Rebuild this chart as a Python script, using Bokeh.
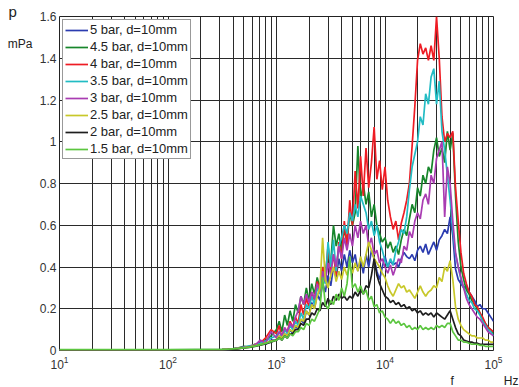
from bokeh.plotting import figure
from bokeh.models import (Range1d, FixedTicker, PrintfTickFormatter, Title, LinearAxis,
                          CustomJSTickFormatter)
from bokeh.embed import file_html
from bokeh.resources import INLINE

freq_hz = [10, 100, 316, 355, 398, 447, 501, 562, 631, 708, 794, 891,
    1000, 1059, 1122, 1189, 1259, 1334, 1413, 1496, 1585, 1679,
    1778, 1884, 1995, 2113, 2239, 2371, 2512, 2661, 2818, 2985,
    3162, 3350, 3548, 3758, 3981, 4217, 4467, 4732, 5012, 5309,
    5623, 5957, 6310, 6683, 7079, 7499, 7943, 8414, 8913, 9441,
    10000, 10593, 11220, 11885, 12589, 13335, 14125, 14962, 15849, 16788,
    17783, 18836, 19953, 21135, 22387, 23714, 25119, 26607, 28184, 29854,
    31623, 33497, 35481, 37584, 39811, 42170, 44668, 47315, 50119, 53088,
    56234, 59566, 63096, 66834, 70795, 74989, 79433, 84140, 89125, 94406,
    100000]

p_5bar = [0.003, 0.003, 0.004, 0.005, 0.007, 0.010, 0.014, 0.018, 0.024, 0.040, 0.030, 0.050,
    0.05, 0.07, 0.05, 0.08, 0.07, 0.10, 0.08, 0.12, 0.10, 0.15,
    0.13, 0.19, 0.17, 0.23, 0.20, 0.27, 0.24, 0.32, 0.28, 0.36,
    0.31, 0.40, 0.35, 0.44, 0.38, 0.46, 0.40, 0.48, 0.42, 0.46,
    0.38, 0.44, 0.37, 0.46, 0.40, 0.48, 0.44, 0.38, 0.34, 0.40,
    0.45, 0.40, 0.43, 0.41, 0.42, 0.40, 0.44, 0.47, 0.45, 0.44,
    0.46, 0.43, 0.48, 0.50, 0.47, 0.51, 0.46, 0.49, 0.52, 0.48,
    0.53, 0.55, 0.58, 0.56, 0.64, 0.55, 0.39, 0.34, 0.32, 0.30,
    0.31, 0.28, 0.26, 0.24, 0.21, 0.22, 0.20, 0.20, 0.18, 0.16,
    0.14]

p_4_5bar = [0.003, 0.003, 0.005, 0.006, 0.009, 0.013, 0.020, 0.016, 0.030, 0.025, 0.050, 0.070,
    0.10, 0.14, 0.09, 0.17, 0.12, 0.19, 0.14, 0.22, 0.18, 0.26,
    0.22, 0.30, 0.24, 0.32, 0.27, 0.35, 0.30, 0.40, 0.36, 0.46,
    0.42, 0.60, 0.50, 0.56, 0.48, 0.58, 0.52, 0.66, 0.60, 0.66,
    0.98, 0.72, 0.80, 0.70, 0.76, 0.64, 0.70, 0.60, 0.56, 0.52,
    0.54, 0.49, 0.52, 0.47, 0.50, 0.46, 0.53, 0.58, 0.55, 0.63,
    0.70, 0.66, 0.78, 0.74, 0.84, 0.80, 0.88, 0.85, 0.96, 1.02,
    0.93, 0.97, 0.90, 1.05, 0.96, 1.04, 0.74, 0.52, 0.40, 0.34,
    0.29, 0.27, 0.24, 0.22, 0.20, 0.18, 0.15, 0.13, 0.11, 0.10,
    0.08]

p_4bar = [0.003, 0.003, 0.004, 0.006, 0.008, 0.011, 0.015, 0.020, 0.028, 0.035, 0.060, 0.100,
    0.08, 0.12, 0.06, 0.10, 0.09, 0.14, 0.11, 0.16, 0.13, 0.22,
    0.17, 0.25, 0.21, 0.28, 0.24, 0.33, 0.29, 0.40, 0.35, 0.50,
    0.38, 0.46, 0.36, 0.52, 0.44, 0.62, 0.50, 0.72, 0.60, 0.86,
    0.68, 0.93, 0.74, 0.97, 0.78, 0.90, 1.07, 0.82, 0.91, 0.77,
    0.88, 0.72, 0.64, 0.58, 0.62, 0.53, 0.61, 0.66, 0.72, 0.80,
    0.98, 1.17, 1.39, 1.47, 1.42, 1.45, 1.39, 1.46, 1.39, 1.60,
    1.40, 1.12, 1.00, 1.04, 1.02, 1.05, 0.78, 0.62, 0.47, 0.37,
    0.32, 0.28, 0.26, 0.22, 0.21, 0.18, 0.16, 0.13, 0.11, 0.10,
    0.09]

p_3_5bar = [0.003, 0.003, 0.004, 0.005, 0.008, 0.012, 0.016, 0.022, 0.026, 0.034, 0.045, 0.060,
    0.07, 0.09, 0.06, 0.10, 0.08, 0.12, 0.10, 0.14, 0.12, 0.18,
    0.15, 0.22, 0.20, 0.26, 0.22, 0.30, 0.27, 0.36, 0.32, 0.52,
    0.40, 0.53, 0.38, 0.50, 0.54, 0.60, 0.56, 0.66, 0.62, 0.70,
    0.64, 0.74, 0.70, 0.66, 0.58, 0.62, 0.55, 0.60, 0.52, 0.48,
    0.43, 0.40, 0.44, 0.41, 0.48, 0.52, 0.58, 0.56, 0.64, 0.77,
    0.88, 0.94, 1.00, 1.12, 1.08, 1.23, 1.18, 1.31, 1.35, 1.18,
    1.29, 1.05, 0.96, 0.84, 0.72, 0.58, 0.46, 0.40, 0.34, 0.30,
    0.27, 0.24, 0.23, 0.20, 0.19, 0.17, 0.14, 0.12, 0.10, 0.09,
    0.07]

p_3bar = [0.003, 0.003, 0.004, 0.005, 0.007, 0.011, 0.015, 0.019, 0.025, 0.050, 0.035, 0.090,
    0.06, 0.09, 0.07, 0.11, 0.09, 0.13, 0.11, 0.16, 0.19, 0.26,
    0.22, 0.27, 0.23, 0.28, 0.25, 0.32, 0.28, 0.38, 0.33, 0.42,
    0.36, 0.46, 0.40, 0.50, 0.44, 0.54, 0.48, 0.56, 0.50, 0.60,
    0.54, 0.62, 0.56, 0.60, 0.50, 0.54, 0.46, 0.48, 0.42, 0.44,
    0.40, 0.37, 0.41, 0.36, 0.40, 0.44, 0.42, 0.50, 0.48, 0.57,
    0.54, 0.62, 0.66, 0.63, 0.72, 0.75, 0.70, 0.84, 0.80, 0.92,
    0.96, 1.00, 0.64, 0.88, 0.80, 0.62, 0.47, 0.40, 0.35, 0.30,
    0.25, 0.22, 0.20, 0.18, 0.16, 0.15, 0.13, 0.11, 0.09, 0.08,
    0.07]

p_2_5bar = [0.003, 0.003, 0.004, 0.005, 0.007, 0.010, 0.013, 0.017, 0.022, 0.028, 0.036, 0.045,
    0.05, 0.07, 0.06, 0.08, 0.07, 0.10, 0.09, 0.12, 0.11, 0.15,
    0.14, 0.19, 0.17, 0.22, 0.20, 0.26, 0.30, 0.54, 0.34, 0.30,
    0.36, 0.40, 0.33, 0.38, 0.34, 0.40, 0.36, 0.41, 0.37, 0.42,
    0.38, 0.45, 0.40, 0.46, 0.52, 0.48, 0.44, 0.42, 0.40, 0.37,
    0.35, 0.31, 0.28, 0.26, 0.29, 0.32, 0.30, 0.31, 0.28, 0.29,
    0.27, 0.25, 0.28, 0.31, 0.28, 0.26, 0.28, 0.29, 0.31, 0.30,
    0.35, 0.33, 0.40, 0.38, 0.43, 0.34, 0.21, 0.15, 0.12, 0.10,
    0.09, 0.08, 0.07, 0.07, 0.06, 0.06, 0.06, 0.05, 0.05, 0.04,
    0.04]

p_2bar = [0.003, 0.003, 0.003, 0.004, 0.006, 0.009, 0.012, 0.015, 0.020, 0.026, 0.032, 0.040,
    0.05, 0.06, 0.05, 0.07, 0.06, 0.08, 0.08, 0.10, 0.10, 0.13,
    0.12, 0.15, 0.15, 0.18, 0.17, 0.20, 0.19, 0.23, 0.21, 0.25,
    0.22, 0.26, 0.24, 0.27, 0.25, 0.26, 0.24, 0.26, 0.25, 0.28,
    0.26, 0.29, 0.27, 0.31, 0.30, 0.36, 0.44, 0.36, 0.32, 0.29,
    0.26, 0.25, 0.23, 0.24, 0.22, 0.23, 0.21, 0.22, 0.20, 0.21,
    0.19, 0.20, 0.18, 0.19, 0.17, 0.18, 0.17, 0.18, 0.16, 0.18,
    0.17, 0.16, 0.15, 0.17, 0.19, 0.15, 0.11, 0.08, 0.07, 0.05,
    0.045, 0.04, 0.04, 0.035, 0.035, 0.03, 0.03, 0.03, 0.03, 0.03,
    0.03]

p_1_5bar = [0.004, 0.004, 0.005, 0.006, 0.008, 0.010, 0.013, 0.016, 0.021, 0.027, 0.034, 0.042,
    0.05, 0.06, 0.05, 0.07, 0.06, 0.08, 0.07, 0.09, 0.09, 0.11,
    0.10, 0.13, 0.12, 0.15, 0.14, 0.17, 0.20, 0.35, 0.22, 0.20,
    0.24, 0.22, 0.27, 0.24, 0.30, 0.26, 0.32, 0.45, 0.30, 0.32,
    0.28, 0.31, 0.27, 0.29, 0.24, 0.26, 0.21, 0.22, 0.18, 0.19,
    0.16, 0.15, 0.13, 0.15, 0.13, 0.14, 0.12, 0.13, 0.11, 0.12,
    0.10, 0.11, 0.10, 0.12, 0.10, 0.11, 0.10, 0.11, 0.10, 0.12,
    0.11, 0.12, 0.11, 0.13, 0.13, 0.09, 0.07, 0.05, 0.05, 0.04,
    0.04, 0.035, 0.03, 0.03, 0.03, 0.025, 0.025, 0.02, 0.02, 0.02,
    0.02]

series_names = ["5 bar, d=10mm", "4.5 bar, d=10mm", "4 bar, d=10mm", "3.5 bar, d=10mm",
                "3 bar, d=10mm", "2.5 bar, d=10mm", "2 bar, d=10mm", "1.5 bar, d=10mm"]
series_values = [p_5bar, p_4_5bar, p_4bar, p_3_5bar, p_3bar, p_2_5bar, p_2bar, p_1_5bar]
series_colors = ["#2b3cb0", "#17862b", "#ee1c24", "#22bcc4", "#a93cb2", "#c8c82a", "#1e1e1e", "#5cc640"]

x_major = [10, 100, 1000, 10000, 100000]
x_minor = [20, 30, 40, 50, 60, 70, 80, 90,
           200, 300, 400, 500, 600, 700, 800, 900,
           2000, 3000, 4000, 5000, 6000, 7000, 8000, 9000,
           20000, 30000, 40000, 50000, 60000, 70000, 80000, 90000]
y_ticks = [0, 0.2, 0.4, 0.6, 0.8, 1.0, 1.2, 1.4, 1.6]
y_unit_tick = [1.466]   # where the "mPa" unit caption sits on the p axis
y_caption = "p"
y_unit = "mPa"
x_caption = "f"
x_unit = "Hz"

for s in series_values:
    assert len(s) == len(freq_hz)

FONT = "Liberation Sans"
GRID = "#2a2a2a"
TXT = "#222222"

p = figure(width=519, height=387, x_axis_type="log", output_backend="svg",
           toolbar_location=None, x_range=Range1d(10, 100000), y_range=Range1d(0, 1.6),
           min_border_left=59, min_border_right=26, min_border_top=16, min_border_bottom=36,
           title=y_caption)
p.background_fill_color = "white"
p.border_fill_color = "white"
p.outline_line_color = "#222222"
p.outline_line_width = 1

# "p" caption at the top-left, via the figure title
p.title.align = "left"
p.title.offset = -51
p.title.standoff = -6
p.title.text_font = FONT
p.title.text_font_size = "15px"
p.title.text_font_style = "normal"
p.title.text_color = TXT

p.xaxis.ticker = FixedTicker(ticks=x_major, minor_ticks=x_minor)
p.yaxis.ticker = FixedTicker(ticks=y_ticks)
p.yaxis.formatter = PrintfTickFormatter(format="%g")

# unit axis carrying only the "mPa" caption, left of the tick labels
unit_axis = LinearAxis(ticker=FixedTicker(ticks=y_unit_tick),
                       formatter=CustomJSTickFormatter(code="return '%s'" % y_unit))
p.add_layout(unit_axis, "left")

for ax in (p.xaxis[0], p.yaxis[0], unit_axis):
    ax.axis_line_color = None
    ax.major_tick_line_color = None
    ax.minor_tick_line_color = None
    ax.major_tick_in = 0
    ax.major_tick_out = 0
    ax.minor_tick_in = 0
    ax.minor_tick_out = 0
    ax.major_label_text_font = FONT
    ax.major_label_text_font_size = "12px"
    ax.major_label_text_color = "#333333"
p.yaxis[0].major_label_standoff = 3
p.xaxis[0].major_label_standoff = 5
unit_axis.major_label_standoff = 4
unit_axis.major_label_text_font_size = "12px"
unit_axis.major_label_text_color = TXT

# "f ... Hz" caption below the x tick labels
p.add_layout(Title(text=x_caption + "\u00a0" * 15 + x_unit, align="right", offset=-25, standoff=0,
                   text_font=FONT, text_font_size="12px", text_font_style="normal",
                   text_color=TXT), "below")

p.xgrid.grid_line_color = GRID
p.xgrid.grid_line_width = 1
p.xgrid.minor_grid_line_color = GRID
p.xgrid.minor_grid_line_width = 1
p.ygrid.grid_line_color = GRID
p.ygrid.grid_line_width = 1

for name, vals, col in zip(series_names, series_values, series_colors):
    p.line(freq_hz, vals, line_color=col, line_width=1.7, legend_label=name)

lg = p.legend[0]
lg.location = "top_left"
lg.margin = 3
lg.padding = 2
lg.spacing = 2
lg.label_height = 14
lg.glyph_height = 14
lg.glyph_width = 23
lg.label_standoff = 2
lg.label_text_font = FONT
lg.label_text_font_size = "13px"
lg.label_text_color = TXT
lg.border_line_color = "#333333"
lg.border_line_width = 1
lg.background_fill_alpha = 1

open("out.html", "w").write(file_html(p, INLINE))
